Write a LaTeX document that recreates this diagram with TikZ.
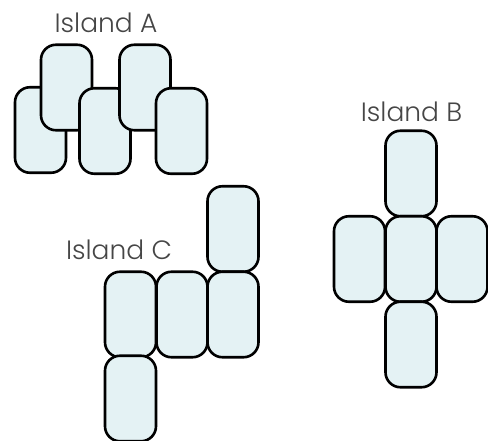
\documentclass[tikz,border=0pt]{standalone}
\usepackage{fontspec}
\newfontfamily\lblfont{Poppins Light}
\definecolor{cellfill}{RGB}{228,242,244}
\definecolor{lblgray}{RGB}{70,70,70}
\begin{document}
\begin{tikzpicture}[x=1pt,y=-1pt,
  cell/.style={draw=black, line width=2.6pt, fill=cellfill, rounded corners=15pt,
    minimum width=51pt, minimum height=85.5pt, inner sep=0pt},
  lbl/.style={text=lblgray, font=\lblfont\fontsize{26.5}{30}\selectfont, inner sep=0pt}]
\useasboundingbox (0,0) rectangle (488,441);
% Island A: staggered overlapping cells
\node[lbl] (labA) at (106,23) {Island A};
\node[cell] (a1) at (40.5,130) {};
\node[cell] (a2) at (66.5,87.5) {};
\node[cell] (a3) at (105,131) {};
\node[cell] (a4) at (145,87.5) {};
\node[cell] (a5) at (181.5,131) {};
% Island B: cross shape
\node[lbl] (labB) at (411.5,112) {Island B};
\node[cell] (b1) at (411,173.5) {};
\node[cell] (b2) at (359.5,259) {};
\node[cell] (b3) at (411,259) {};
\node[cell] (b4) at (462,259) {};
\node[cell] (b5) at (411,344.5) {};
% Island C
\node[lbl] (labC) at (119,250) {Island C};
\node[cell] (c1) at (233,229) {};
\node[cell] (c2) at (130.5,314.5) {};
\node[cell] (c3) at (182,314.5) {};
\node[cell] (c4) at (233,314.5) {};
\node[cell] (c5) at (130.5,398.5) {};
\end{tikzpicture}
\end{document}
